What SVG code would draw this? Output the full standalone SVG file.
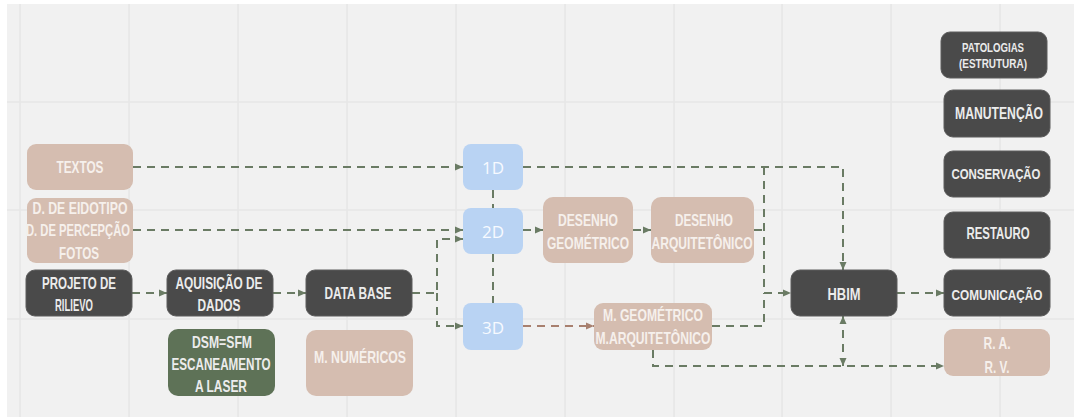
<svg xmlns="http://www.w3.org/2000/svg" width="1074" height="417" viewBox="0 0 1074 417">
<style>
.t{font-family:"Liberation Sans",Arial,sans-serif;font-weight:bold;font-size:16.5px;text-anchor:middle;dominant-baseline:central}
.s{font-size:13px}
.m{font-size:15px}
.lt{fill:#f6f0ec}
.dk{fill:#ececec}
.beige{fill:#d5bdb0}
.dark{fill:#4a4a4a;stroke:#5c5c5c;stroke-width:1}
.green{fill:#5e7257}
.blue{fill:#b9d3f3}
.bt{font-family:"Open Sans","Liberation Sans",sans-serif;font-weight:normal;font-size:17px;fill:#f7faff;text-anchor:middle;dominant-baseline:central}
.c{fill:none;stroke:#6a7b64;stroke-width:2;stroke-dasharray:8 6}
.cb{fill:none;stroke:#a8806f;stroke-width:2;stroke-dasharray:8 6}
.g{stroke:#e6e6e6;stroke-width:1.6}
</style>
<defs>
<marker id="a" markerUnits="userSpaceOnUse" markerWidth="9" markerHeight="8" refX="8" refY="4" orient="auto-start-reverse"><path d="M0,0.5 L8,4 L0,7.5 z" fill="#6a7b64"/></marker>
<marker id="ab" markerUnits="userSpaceOnUse" markerWidth="9" markerHeight="8" refX="8" refY="4" orient="auto"><path d="M0,0.5 L8,4 L0,7.5 z" fill="#a8806f"/></marker>
</defs>
<rect x="0" y="0" width="1074" height="417" fill="#ffffff"/>
<rect x="7" y="4" width="1067" height="413" fill="#f1f1f1"/>
<g id="grid">
<path class="g" d="M20,4V417M129,4V417M238,4V417M347,4V417M456,4V417M565,4V417M674,4V417M782,4V417M891,4V417M1000,4V417M7,102H1074M7,210H1074M7,319H1074"/>
</g>
<g id="connectors">
<path class="c" d="M133,167H463" marker-end="url(#a)"/>
<path class="c" d="M133,230H463" marker-end="url(#a)"/>
<path class="c" d="M132,293H167" marker-end="url(#a)"/>
<path class="c" d="M273,293H306" marker-end="url(#a)"/>
<path class="c" d="M412,293H437V239H463" marker-end="url(#a)"/>
<path class="c" d="M437,293V326H463" marker-end="url(#a)"/>
<path class="c" d="M493,190V208"/>
<path class="c" d="M493,254V303"/>
<path class="c" d="M523,230H543" marker-end="url(#a)"/>
<path class="c" d="M633,230H651" marker-end="url(#a)"/>
<path class="c" d="M754,230H764"/>
<path class="c" d="M523,167H843V270" marker-end="url(#a)"/>
<path class="c" d="M764,167V293H791" marker-end="url(#a)"/>
<path class="c" d="M712,326H764V293"/>
<path class="cb" d="M523,326H594" marker-end="url(#ab)"/>
<path class="c" d="M653,350V366H944" marker-end="url(#a)"/>
<path class="c" d="M843,366V316" marker-start="url(#a)" marker-end="url(#a)"/>
<path class="c" d="M897,293H944" marker-end="url(#a)"/>
</g>
<g id="textos"><rect class="beige" x="27" y="144" width="106" height="46" rx="9"/><text class="t lt" x="80" y="167" textLength="47" lengthAdjust="spacingAndGlyphs">TEXTOS</text></g>
<g id="eidotipo"><rect class="beige" x="27" y="198" width="106" height="65" rx="9"/>
<text class="t lt" x="80" y="208" textLength="95" lengthAdjust="spacingAndGlyphs">D. DE EIDOTIPO</text>
<text class="t lt" x="78" y="230" textLength="104" lengthAdjust="spacingAndGlyphs">D. DE PERCEPÇÃO</text>
<text class="t lt" x="79" y="253" textLength="40" lengthAdjust="spacingAndGlyphs">FOTOS</text></g>
<g id="projeto"><rect class="dark" x="26" y="270" width="106" height="46" rx="9"/>
<text class="t dk" x="79" y="283" textLength="74" lengthAdjust="spacingAndGlyphs">PROJETO DE</text>
<text class="t dk" x="74" y="305" textLength="38" lengthAdjust="spacingAndGlyphs">RILIEVO</text></g>
<g id="aquisicao"><rect class="dark" x="167" y="270" width="106" height="46" rx="9"/>
<text class="t dk" x="219" y="283" textLength="87" lengthAdjust="spacingAndGlyphs">AQUISIÇÃO DE</text>
<text class="t dk" x="219" y="305" textLength="43" lengthAdjust="spacingAndGlyphs">DADOS</text></g>
<g id="database"><rect class="dark" x="306" y="270" width="106" height="46" rx="9"/>
<text class="t dk" x="358" y="293" textLength="67" lengthAdjust="spacingAndGlyphs">DATA BASE</text></g>
<g id="dsm"><rect class="green" x="168" y="329" width="107" height="67" rx="10"/>
<text class="t dk" x="222" y="342" textLength="60" lengthAdjust="spacingAndGlyphs">DSM=SFM</text>
<text class="t dk" x="221" y="364" textLength="99" lengthAdjust="spacingAndGlyphs">ESCANEAMENTO</text>
<text class="t dk" x="221" y="386" textLength="52" lengthAdjust="spacingAndGlyphs">A LASER</text></g>
<g id="numericos"><rect class="beige" x="306" y="330" width="107" height="66" rx="10"/>
<text class="t lt" x="360" y="357" textLength="92" lengthAdjust="spacingAndGlyphs">M. NUMÉRICOS</text></g>
<g id="d1"><rect class="blue" x="463" y="144" width="60" height="46" rx="8"/><text class="bt" x="493" y="167">1D</text></g>
<g id="d2"><rect class="blue" x="463" y="208" width="60" height="46" rx="8"/><text class="bt" x="493" y="231">2D</text></g>
<g id="d3"><rect class="blue" x="463" y="303" width="60" height="47" rx="8"/><text class="bt" x="493" y="327">3D</text></g>
<g id="desgeo"><rect class="beige" x="543" y="197" width="90" height="66" rx="10"/>
<text class="t lt" x="588" y="220" textLength="60" lengthAdjust="spacingAndGlyphs">DESENHO</text>
<text class="t lt" x="588" y="243" textLength="82" lengthAdjust="spacingAndGlyphs">GEOMÉTRICO</text></g>
<g id="desarq"><rect class="beige" x="651" y="197" width="103" height="66" rx="10"/>
<text class="t lt" x="704" y="220" textLength="58" lengthAdjust="spacingAndGlyphs">DESENHO</text>
<text class="t lt" x="702" y="243" textLength="101" lengthAdjust="spacingAndGlyphs">ARQUITETÔNICO</text></g>
<g id="mgeo"><rect class="beige" x="594" y="303" width="118" height="47" rx="9"/>
<text class="t lt" x="653" y="315" textLength="100" lengthAdjust="spacingAndGlyphs">M. GEOMÉTRICO</text>
<text class="t lt" x="653" y="338" textLength="115" lengthAdjust="spacingAndGlyphs">M.ARQUITETÔNICO</text></g>
<g id="hbim"><rect class="dark" x="791" y="270" width="106" height="46" rx="9"/>
<text class="t dk" x="844" y="294" textLength="33" lengthAdjust="spacingAndGlyphs">HBIM</text></g>
<g id="patologias"><rect class="dark" x="941" y="32" width="106" height="46" rx="9"/>
<text class="t dk s" x="993" y="47" textLength="62" lengthAdjust="spacingAndGlyphs">PATOLOGIAS</text>
<text class="t dk s" x="993" y="63" textLength="68" lengthAdjust="spacingAndGlyphs">(ESTRUTURA)</text></g>
<g id="manutencao"><rect class="dark" x="944" y="90" width="106" height="47" rx="9"/>
<text class="t dk" x="999" y="113" textLength="88" lengthAdjust="spacingAndGlyphs">MANUTENÇÃO</text></g>
<g id="conservacao"><rect class="dark" x="944" y="151" width="106" height="46" rx="9"/>
<text class="t dk m" x="996" y="173" textLength="89" lengthAdjust="spacingAndGlyphs">CONSERVAÇÃO</text></g>
<g id="restauro"><rect class="dark" x="944" y="212" width="106" height="46" rx="9"/>
<text class="t dk" x="998" y="233" textLength="63" lengthAdjust="spacingAndGlyphs">RESTAURO</text></g>
<g id="comunicacao"><rect class="dark" x="944" y="270" width="106" height="46" rx="9"/>
<text class="t dk m" x="997" y="294" textLength="91" lengthAdjust="spacingAndGlyphs">COMUNICAÇÃO</text></g>
<g id="rarv"><rect class="beige" x="944" y="329" width="106" height="47" rx="9"/>
<text class="t lt" x="997" y="343" textLength="27" lengthAdjust="spacingAndGlyphs">R. A.</text>
<text class="t lt" x="997" y="367" textLength="25" lengthAdjust="spacingAndGlyphs">R. V.</text></g>
</svg>
